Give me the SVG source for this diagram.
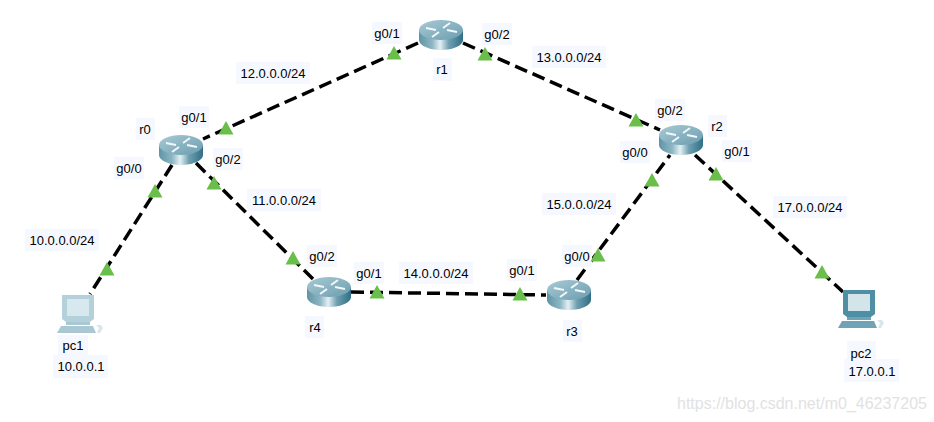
<svg xmlns="http://www.w3.org/2000/svg" width="934" height="422" viewBox="0 0 934 422">
<style>
text{font-family:"Liberation Sans",Arial,sans-serif;font-size:13px;fill:#000;text-anchor:middle}
.bg{fill:#f6f8ff}
.lk{stroke:#000;stroke-width:3.5;stroke-dasharray:13 6;fill:none}
.wm{font-size:16px;fill:#e2e2e2;text-anchor:start}
.pc{--m:#b4d0da;--d:#a9c8d3;--s:#d7e8ee}
.pc2{--m:#4f8fa5;--d:#6fa3b5;--s:#d3e4ea}
</style>
<defs>
<linearGradient id="rg" x1="0" x2="1" y1="0" y2="0">
<stop offset="0" stop-color="#5f94a6"/><stop offset=".3" stop-color="#8db6c3"/><stop offset=".48" stop-color="#e4f0f3"/><stop offset=".68" stop-color="#6f9fb0"/><stop offset="1" stop-color="#2f6f86"/>
</linearGradient>
<linearGradient id="rt" x1="0" x2="1" y1="0" y2="1">
<stop offset="0" stop-color="#a9cad5"/><stop offset="1" stop-color="#6b9daf"/>
</linearGradient>
<g id="router">
<path d="M0 10V20A22 10 0 0 0 44 20V10Z" fill="url(#rg)"/>
<ellipse cx="22" cy="10" rx="22" ry="10" fill="url(#rt)"/>
<path d="M7 8L17 10M31 3L24 8M38 12L28 10M13 17L20 12" stroke="#f2f8fa" stroke-width="2" fill="none"/>
</g>
<polygon id="tri" points="0,-7 7.5,6.5 -7.5,6.5" fill="#6abf4b"/>
<g id="pcsym">
<path d="M5 0H37V24L33 27H9L5 24Z" fill="var(--m)"/>
<rect x="10" y="4" width="22" height="17" fill="var(--s)"/>
<path d="M9 27H33V30H9Z" fill="var(--d)"/>
<path d="M4 31H36L39 38H0Z" fill="var(--d)"/>
<path d="M39 30H44L46 33L43 38H40L42 33Z" fill="#d9e6ea"/>
</g>
</defs>
<g id="connectors">
<line class="lk" x1="418" y1="43" x2="203" y2="139"/>
<line class="lk" x1="463" y1="43" x2="660" y2="130"/>
<line class="lk" x1="172" y1="165" x2="90" y2="294"/>
<line class="lk" x1="196" y1="163" x2="313" y2="279"/>
<line class="lk" x1="351" y1="292" x2="546" y2="295"/>
<line class="lk" x1="577" y1="280" x2="670" y2="155"/>
<line class="lk" x1="695" y1="155" x2="843" y2="292"/>
</g>
<g id="r1"><use href="#router" x="419" y="20"/><rect class="bg" x="433" y="58" width="19" height="23"/><text x="442" y="74">r1</text></g>
<g id="r0"><use href="#router" x="159" y="135"/><rect class="bg" x="136" y="118" width="19" height="22"/><text x="145" y="134">r0</text></g>
<g id="r2"><use href="#router" x="659" y="125"/><rect class="bg" x="708" y="115" width="19" height="22"/><text x="717" y="131">r2</text></g>
<g id="r3"><use href="#router" x="547" y="280"/><rect class="bg" x="563" y="320" width="19" height="22"/><text x="572" y="336">r3</text></g>
<g id="r4"><use href="#router" x="307" y="277"/><rect class="bg" x="305" y="316" width="19" height="22"/><text x="315" y="332">r4</text></g>
<g id="pc1"><use class="pc" href="#pcsym" x="57" y="295"/><rect class="bg" x="58" y="335" width="30" height="20"/><rect class="bg" x="53" y="355" width="55" height="23"/><text x="73" y="350">pc1</text><text x="81" y="371">10.0.0.1</text></g>
<g id="pc2"><use class="pc2" href="#pcsym" x="838" y="290"/><rect class="bg" x="847" y="341" width="29" height="20"/><rect class="bg" x="844" y="359" width="55" height="23"/><text x="861" y="358">pc2</text><text x="872" y="376">17.0.0.1</text></g>
<g id="link-labels">
<rect class="bg" x="236" y="62" width="74" height="22"/><text x="273" y="78">12.0.0.0/24</text>
<rect class="bg" x="532" y="46" width="74" height="22"/><text x="569" y="62">13.0.0.0/24</text>
<rect class="bg" x="247" y="189" width="74" height="22"/><text x="284" y="205">11.0.0.0/24</text>
<rect class="bg" x="542" y="193" width="74" height="22"/><text x="579" y="209">15.0.0.0/24</text>
<rect class="bg" x="773" y="196" width="74" height="22"/><text x="810" y="212">17.0.0.0/24</text>
<rect class="bg" x="25" y="229" width="74" height="22"/><text x="62" y="245">10.0.0.0/24</text>
<rect class="bg" x="399" y="262" width="74" height="22"/><text x="436" y="278">14.0.0.0/24</text>
</g>
<g id="port-labels">
<rect class="bg" x="372" y="22" width="30" height="22"/><text x="387" y="38">g0/1</text>
<rect class="bg" x="482" y="23" width="30" height="22"/><text x="497" y="39">g0/2</text>
<rect class="bg" x="179" y="106" width="30" height="22"/><text x="194" y="122">g0/1</text>
<rect class="bg" x="213" y="148" width="30" height="22"/><text x="228" y="164">g0/2</text>
<rect class="bg" x="114" y="157" width="30" height="22"/><text x="129" y="173">g0/0</text>
<rect class="bg" x="655" y="99" width="30" height="22"/><text x="670" y="115">g0/2</text>
<rect class="bg" x="620" y="141" width="30" height="22"/><text x="635" y="157">g0/0</text>
<rect class="bg" x="722" y="140" width="30" height="22"/><text x="737" y="156">g0/1</text>
<rect class="bg" x="307" y="245" width="30" height="22"/><text x="322" y="261">g0/2</text>
<rect class="bg" x="354" y="262" width="30" height="22"/><text x="369" y="278">g0/1</text>
<rect class="bg" x="507" y="259" width="30" height="22"/><text x="522" y="275">g0/1</text>
<rect class="bg" x="562" y="245" width="30" height="22"/><text x="577" y="261">g0/0</text>
</g>
<g id="port-markers">
<use href="#tri" x="394" y="53"/><use href="#tri" x="485" y="54"/><use href="#tri" x="226" y="128"/><use href="#tri" x="155" y="191"/><use href="#tri" x="214" y="183"/><use href="#tri" x="107" y="269"/><use href="#tri" x="293" y="258"/><use href="#tri" x="377" y="292"/><use href="#tri" x="520" y="294"/><use href="#tri" x="598" y="255"/><use href="#tri" x="652" y="180"/><use href="#tri" x="636" y="120"/><use href="#tri" x="716" y="174"/><use href="#tri" x="822" y="272"/>
</g>
<text class="wm" x="677" y="409">https://blog.csdn.net/m0_46237205</text>
</svg>
